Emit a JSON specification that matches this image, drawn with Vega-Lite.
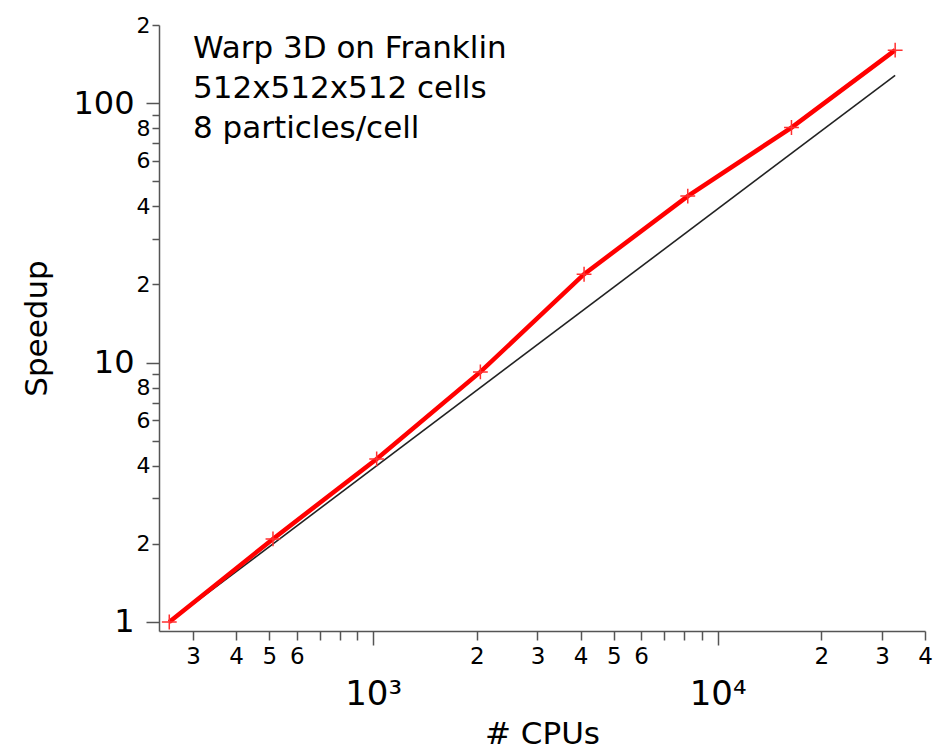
{
  "$schema": "https://vega.github.io/schema/vega-lite/v6.json",
  "autosize": {"type": "none"},
  "width": 766,
  "height": 606,
  "padding": {"left": 159, "top": 25, "right": 22, "bottom": 124},
  "background": "white",
  "config": {
    "view": {"stroke": null},
    "font": "DejaVu Sans",
    "axis": {"grid": false, "domainColor": "#555555", "domainWidth": 1.5, "tickColor": "#555555", "tickWidth": 1.5, "labelColor": "black", "titleColor": "black", "labelFont": "DejaVu Sans", "titleFont": "DejaVu Sans", "titleFontWeight": "normal"}
  },
  "datasets": {
    "measured": [
      {"cpus": 256, "speedup": 1.0},
      {"cpus": 512, "speedup": 2.09},
      {"cpus": 1024, "speedup": 4.25},
      {"cpus": 2048, "speedup": 9.2},
      {"cpus": 4096, "speedup": 21.9},
      {"cpus": 8192, "speedup": 43.8},
      {"cpus": 16384, "speedup": 80.5},
      {"cpus": 32768, "speedup": 160}
    ],
    "ideal": [
      {"cpus": 256, "speedup": 1},
      {"cpus": 32768, "speedup": 128}
    ],
    "notes": [
      {"cpus": 300, "speedup": 149, "label": "Warp 3D on Franklin"},
      {"cpus": 300, "speedup": 104.5, "label": "512x512x512 cells"},
      {"cpus": 300, "speedup": 73.3, "label": "8 particles/cell"}
    ]
  },
  "layer": [
    {
      "data": {"name": "ideal"},
      "mark": {"type": "line", "color": "#222222", "strokeWidth": 1.6},
      "encoding": {
        "x": {
          "field": "cpus", "type": "quantitative",
          "scale": {"type": "log", "domain": [239, 40000], "nice": false},
          "axis": {
            "title": "# CPUs",
            "titleFontSize": 31,
            "titlePadding": 8,
            "values": [300, 400, 500, 600, 700, 800, 900, 1000, 2000, 3000, 4000, 5000, 6000, 7000, 8000, 9000, 10000, 20000, 30000, 40000],
            "labelExpr": "datum.value == 1000 ? '10³' : datum.value == 10000 ? '10⁴' : (indexof(['7','8','9'], substring(toString(datum.value),0,1)) >= 0 ? '' : substring(toString(datum.value),0,1))",
            "labelFontSize": {"condition": {"test": "datum.value == 1000 || datum.value == 10000", "value": 34}, "value": 23},
            "tickSize": {"condition": {"test": "datum.value == 1000 || datum.value == 10000", "value": 14}, "value": 9},
            "labelPadding": {"condition": {"test": "datum.value == 1000 || datum.value == 10000", "value": 32}, "value": 5},
            "labelOverlap": false,
            "labelFlush": false,
            "labelBound": false
          }
        },
        "y": {
          "field": "speedup", "type": "quantitative",
          "scale": {"type": "log", "domain": [0.923, 200], "nice": false},
          "axis": {
            "title": "Speedup",
            "titleFontSize": 31,
            "titlePadding": 19,
            "values": [1, 2, 3, 4, 5, 6, 7, 8, 9, 10, 20, 30, 40, 50, 60, 70, 80, 90, 100, 200],
            "labelExpr": "(datum.value == 1 || datum.value == 10 || datum.value == 100) ? toString(datum.value) : (indexof(['2','4','6','8'], substring(toString(datum.value),0,1)) >= 0 ? substring(toString(datum.value),0,1) : '')",
            "labelFontSize": {"condition": {"test": "datum.value == 1 || datum.value == 10 || datum.value == 100", "value": 32}, "value": 22},
            "tickSize": {"condition": {"test": "datum.value == 1 || datum.value == 10 || datum.value == 100", "value": 13}, "value": 7},
            "labelPadding": {"condition": {"test": "datum.value == 1 || datum.value == 10 || datum.value == 100", "value": 12}, "value": 2},
            "labelOverlap": false,
            "labelFlush": false,
            "labelBound": false
          }
        }
      }
    },
    {
      "data": {"name": "measured"},
      "mark": {"type": "line", "color": "#ff0000", "strokeWidth": 4.5},
      "encoding": {
        "x": {"field": "cpus", "type": "quantitative"},
        "y": {"field": "speedup", "type": "quantitative"}
      }
    },
    {
      "data": {"name": "measured"},
      "mark": {"type": "point", "shape": "M-1,0H1M0,-1V1", "filled": false, "stroke": "#ff3030", "strokeWidth": 1.5, "size": 220, "opacity": 1},
      "encoding": {
        "x": {"field": "cpus", "type": "quantitative"},
        "y": {"field": "speedup", "type": "quantitative"}
      }
    },
    {
      "data": {"name": "notes"},
      "mark": {"type": "text", "align": "left", "baseline": "alphabetic", "fontSize": 31, "font": "DejaVu Sans", "color": "black"},
      "encoding": {
        "x": {"field": "cpus", "type": "quantitative"},
        "y": {"field": "speedup", "type": "quantitative"},
        "text": {"field": "label"}
      }
    }
  ]
}
